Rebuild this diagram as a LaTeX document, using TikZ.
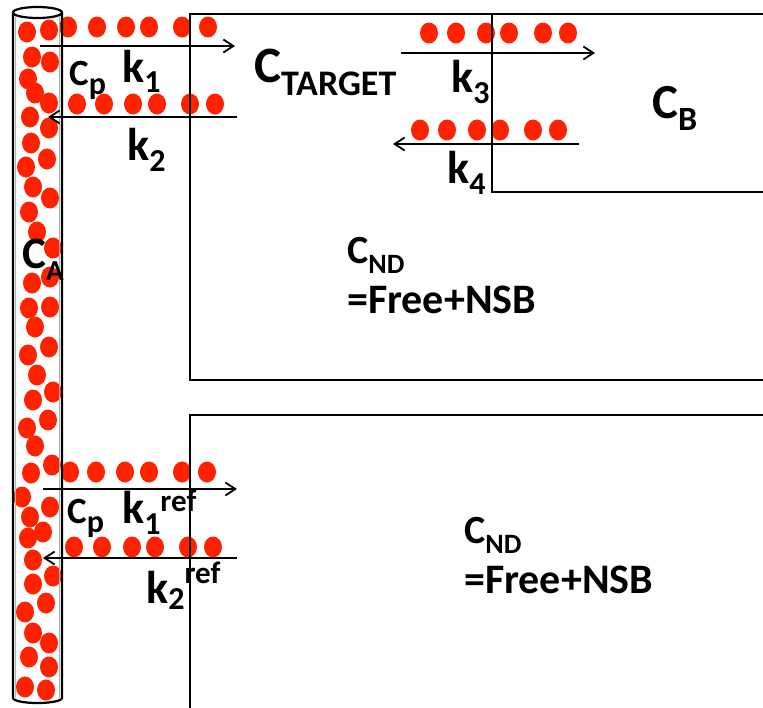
\documentclass[tikz,border=0pt]{standalone}
\usepackage{fontspec}
\setmainfont{Carlito}
\usetikzlibrary{arrows.meta}
\definecolor{dotred}{RGB}{255,34,0}
\tikzset{
  reddot/.style={fill=dotred, draw=none},
  wall/.style={line width=2.2pt, black},
  flow/.style={line width=2pt, -{Straight Barb[length=10pt,width=13pt,line width=1.8pt]}},
  lbl/.style={inner sep=0pt, anchor=base west, font=\bfseries},
}
\newcommand{\fs}[1]{\fontsize{#1}{#1}\selectfont}
\begin{document}
\begin{tikzpicture}[x=1pt,y=-1pt]
\useasboundingbox (0,0) rectangle (763,707);
\clip (0,0) rectangle (763,707);
% dots in the tube
\foreach \x/\y in {27/32,49/30,32/57,50/62,28/79,35/93,49/103,30/117,49/128,31/143,47/159,26/167,33/187,50/198,
  29/212,37/232,53/248,50/277,32/283,29/308,50/307,35/327,49/347,28/355,37/375,53/392,33/400,48/420,27/428,35/446,
  52/465,31/473,22/497,50/507,30/517,43/532,28/538,33/560,53/576,33/584,46/603,25/612,33/633,49/643,29/657,49/667,25/687,46/690}
  \fill[reddot] (\x,\y) ellipse [x radius=9pt, y radius=10.5pt];
% dot rows
\foreach \x in {68,97,126,149,182,208} \fill[reddot] (\x,27) ellipse [x radius=9pt, y radius=10.5pt];
\foreach \x in {77,104,133,157,190,215} \fill[reddot] (\x,104) ellipse [x radius=9pt, y radius=10.5pt];
\foreach \x in {429,456,486,509,543,568} \fill[reddot] (\x,33) ellipse [x radius=9pt, y radius=10.5pt];
\foreach \x in {420,447,477,500,533,558} \fill[reddot] (\x,130) ellipse [x radius=9pt, y radius=10.5pt];
\foreach \x in {70,96,125,149,182,207} \fill[reddot] (\x,472) ellipse [x radius=9pt, y radius=10.5pt];
\foreach \x in {74,102,132,155,188,213} \fill[reddot] (\x,547) ellipse [x radius=9pt, y radius=10.5pt];
% tube
\draw[gray!60, line width=0.8pt] (15.8,14) -- (15.8,698) (59.2,14) -- (59.2,698);
\draw[wall] (13,12.5) -- (13,698) arc[start angle=180, end angle=360, x radius=24.5pt, y radius=5pt] -- (62,12.5);
\draw[wall, fill=white] (37.5,12.5) ellipse [x radius=24.5pt, y radius=5.5pt];
% compartments
\draw[wall] (770,14) -- (190,14) -- (190,380) -- (770,380);
\draw[wall] (492,14) -- (492,192) -- (770,192);
\draw[wall] (770,415) -- (190,415) -- (190,710);
% arrows
\coordinate (k1s) at (40,46);  \coordinate (k1e) at (235,46);
\coordinate (k2s) at (237,117); \coordinate (k2e) at (48,117);
\coordinate (k3s) at (401,53); \coordinate (k3e) at (595,53);
\coordinate (k4s) at (579,144); \coordinate (k4e) at (393,144);
\coordinate (r1s) at (43,489); \coordinate (r1e) at (237,489);
\coordinate (r2s) at (237,558); \coordinate (r2e) at (43,558);
\draw[flow] (k1s) -- (k1e);
\draw[flow] (k2s) -- (k2e);
\draw[flow] (k3s) -- (k3e);
\draw[flow] (k4s) -- (k4e);
\draw[flow] (r1s) -- (r1e);
\draw[flow] (r2s) -- (r2e);
% labels
\node[lbl] (ctarget) at (254,82) {\fs{51}C\raisebox{-13pt}{\fs{36}TARGET}};
\node[lbl] (cp1) at (69,85) {\fs{37}C\raisebox{-9pt}{\fs{32}p}};
\node[lbl] (k1) at (122,82) {\fs{46}k\raisebox{-10pt}{\fs{32}1}};
\node[lbl] (k2) at (127,160) {\fs{46}k\raisebox{-11pt}{\fs{32}2}};
\node[lbl] (k3) at (451,92) {\fs{46}k\raisebox{-11pt}{\fs{32}3}};
\node[lbl] (k4) at (447,183) {\fs{46}k\raisebox{-11pt}{\fs{32}4}};
\node[lbl] (cb) at (652,118) {\fs{49}C\raisebox{-12pt}{\fs{34}B}};
\node[lbl] (ca) at (22,268) {\fs{45}C\raisebox{-12pt}{\fs{29}A}};
\node[lbl] (cnd1) at (347,263) {\fs{40}C\raisebox{-10pt}{\fs{28}ND}};
\node[lbl] (free1) at (347,313) {\fs{42}=Free+NSB};
\node[lbl] (cp2) at (67,523) {\fs{37}C\raisebox{-9pt}{\fs{32}p}};
\node[lbl] (k1r) at (122,523) {\fs{46}k\raisebox{-11pt}{\fs{32}1}\raisebox{12pt}{\fs{31}ref}};
\node[lbl] (k2r) at (146,603) {\fs{46}k\raisebox{-6pt}{\fs{32}2}\raisebox{20pt}{\fs{31}ref}};
\node[lbl] (cnd2) at (464,543) {\fs{40}C\raisebox{-10pt}{\fs{28}ND}};
\node[lbl] (free2) at (464,593) {\fs{42}=Free+NSB};
\end{tikzpicture}
\end{document}
